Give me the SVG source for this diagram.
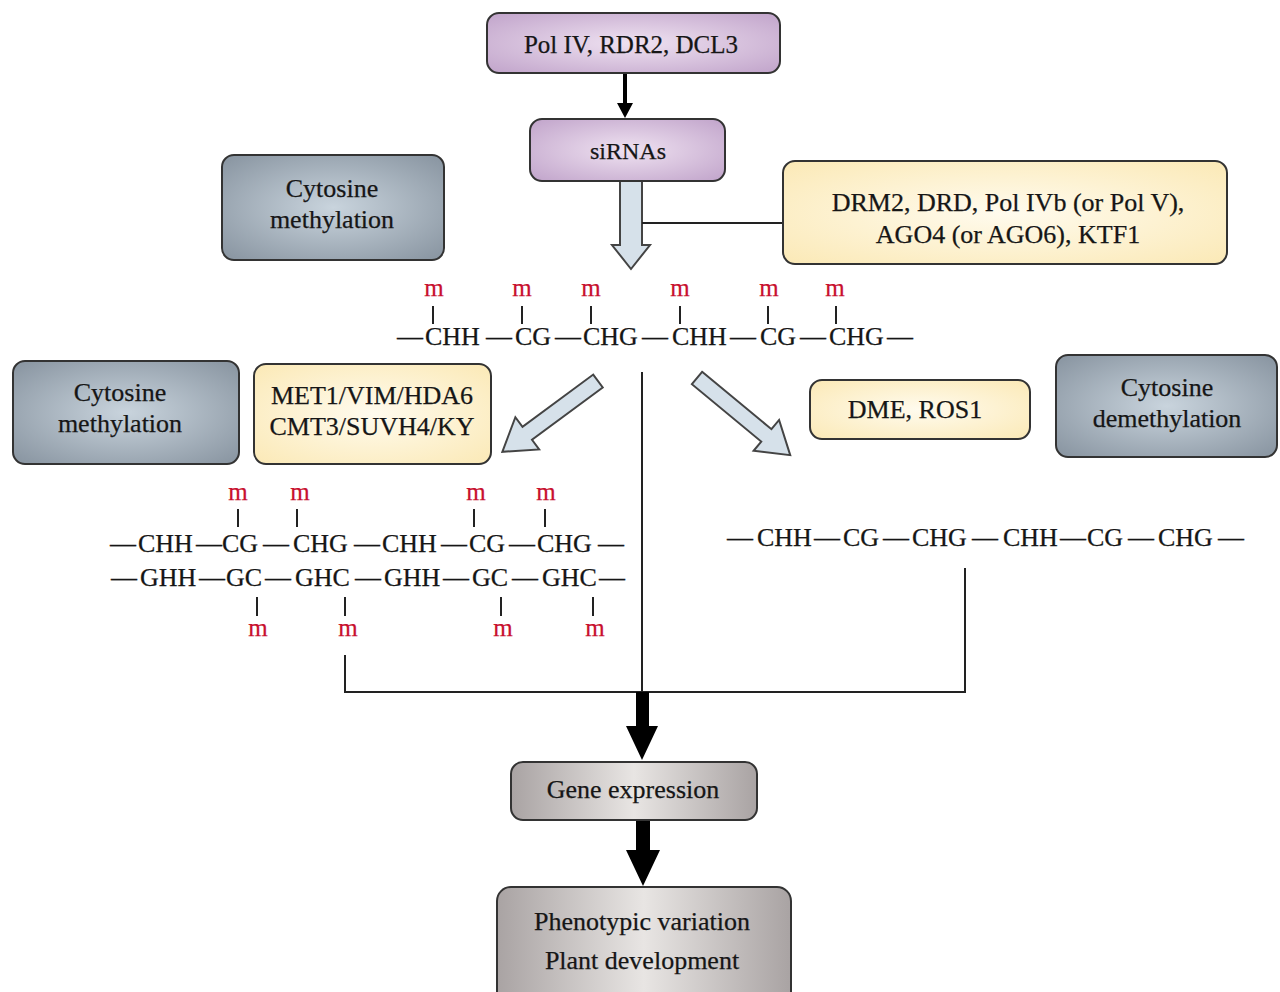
<svg xmlns="http://www.w3.org/2000/svg" width="1280" height="992" viewBox="0 0 1280 992">
<defs>
<radialGradient id="gPurple" cx="50%" cy="50%" r="65%">
<stop offset="0" stop-color="#efe2f1"/><stop offset="1" stop-color="#c4a8cd"/>
</radialGradient>
<radialGradient id="gBlue" cx="50%" cy="50%" r="65%">
<stop offset="0" stop-color="#c9d4dd"/><stop offset="1" stop-color="#8c98a4"/>
</radialGradient>
<radialGradient id="gYellow" cx="50%" cy="50%" r="70%">
<stop offset="0" stop-color="#fffbee"/><stop offset="1" stop-color="#fbe9b6"/>
</radialGradient>
<linearGradient id="gGrey" x1="0" y1="0" x2="1" y2="0">
<stop offset="0" stop-color="#a9a3a3"/><stop offset="0.5" stop-color="#e8e5e3"/><stop offset="1" stop-color="#a9a3a3"/>
</linearGradient>
</defs>
<style>
text{font-family:"Liberation Serif","Times New Roman",serif;fill:#161616;font-size:26px;stroke:#161616;stroke-width:0.25}
.c{text-anchor:middle}
.m{fill:#c8102e;stroke:#c8102e;text-anchor:middle;font-size:25px}
.box{stroke:#333;stroke-width:2}
.ln{stroke:#222;stroke-width:2;fill:none}
.tk{stroke:#222;stroke-width:2}
.hol{fill:#d6e1ea;stroke:#444;stroke-width:2;stroke-linejoin:miter}
.blk{fill:#000}
</style>
<rect width="1280" height="992" fill="#fff"/>

<g id="connectors">
<line x1="625" y1="73" x2="625" y2="104" stroke="#000" stroke-width="4"/>
<polygon class="blk" points="617,103 633,103 625,118"/>
<polygon class="hol" points="620,181 642,181 642,245 650,245 631,269 612,245 620,245"/>
<line class="ln" x1="642" y1="223" x2="783" y2="223"/>
<polygon class="hol" transform="translate(598,381) rotate(143.5)" points="0,-8 88,-8 88,-20 119,0 88,20 88,8 0,8"/>
<polygon class="hol" transform="translate(697,378) rotate(39.6)" points="0,-8 90,-8 90,-20 121,0 90,20 90,8 0,8"/>
<line class="ln" x1="642" y1="372" x2="642" y2="692"/>
<line class="ln" x1="345" y1="655" x2="345" y2="693"/>
<line class="ln" x1="965" y1="568" x2="965" y2="693"/>
<line class="ln" x1="344" y1="692" x2="966" y2="692"/>
<polygon class="blk" points="636,692 649,692 649,726 658,726 642,760 626,726 636,726"/>
<polygon class="blk" points="636,820 650,820 650,850 660,850 643,886 626,850 636,850"/>
</g>

<g id="node-polIV">
<rect class="box" x="487" y="13" width="293" height="60" rx="12" fill="url(#gPurple)"/>
<text class="c" x="631" y="53" style="font-size:25px">Pol IV, RDR2, DCL3</text>
</g>
<g id="node-siRNAs">
<rect class="box" x="530" y="119" width="195" height="62" rx="12" fill="url(#gPurple)"/>
<text class="c" x="628" y="159" style="font-size:24px">siRNAs</text>
</g>
<g id="node-cyto-meth-top">
<rect class="box" x="222" y="155" width="222" height="105" rx="12" fill="url(#gBlue)"/>
<text class="c" x="332" y="197">Cytosine</text>
<text class="c" x="332" y="228">methylation</text>
</g>
<g id="node-drm2">
<rect class="box" x="783" y="161" width="444" height="103" rx="12" fill="url(#gYellow)"/>
<text class="c" x="1008" y="211">DRM2, DRD, Pol IVb (or Pol V),</text>
<text class="c" x="1008" y="243">AGO4 (or AGO6), KTF1</text>
</g>

<g id="strand-top">
<text class="m" x="434" y="296">m</text>
<text class="m" x="522" y="296">m</text>
<text class="m" x="591" y="296">m</text>
<text class="m" x="680" y="296">m</text>
<text class="m" x="769" y="296">m</text>
<text class="m" x="835" y="296">m</text>
<line class="tk" x1="433" y1="306" x2="433" y2="324"/>
<line class="tk" x1="522" y1="306" x2="522" y2="324"/>
<line class="tk" x1="591" y1="306" x2="591" y2="324"/>
<line class="tk" x1="680" y1="306" x2="680" y2="324"/>
<line class="tk" x1="768" y1="306" x2="768" y2="324"/>
<line class="tk" x1="836" y1="306" x2="836" y2="324"/>
<text class="c" x="410" y="345">—</text>
<text x="425" y="345">CHH</text>
<text class="c" x="499" y="345">—</text>
<text x="515" y="345">CG</text>
<text class="c" x="568" y="345">—</text>
<text x="583" y="345">CHG</text>
<text class="c" x="655" y="345">—</text>
<text x="672" y="345">CHH</text>
<text class="c" x="743" y="345">—</text>
<text x="760" y="345">CG</text>
<text class="c" x="813" y="345">—</text>
<text x="829" y="345">CHG</text>
<text class="c" x="900" y="345">—</text>
</g>

<g id="node-cyto-meth-left">
<rect class="box" x="13" y="361" width="226" height="103" rx="12" fill="url(#gBlue)"/>
<text class="c" x="120" y="401">Cytosine</text>
<text class="c" x="120" y="432">methylation</text>
</g>
<g id="node-met1">
<rect class="box" x="254" y="364" width="237" height="100" rx="12" fill="url(#gYellow)"/>
<text class="c" x="372" y="404">MET1/VIM/HDA6</text>
<text class="c" x="372" y="435">CMT3/SUVH4/KY</text>
</g>
<g id="node-dme">
<rect class="box" x="810" y="380" width="220" height="59" rx="12" fill="url(#gYellow)"/>
<text class="c" x="915" y="418">DME, ROS1</text>
</g>
<g id="node-cyto-demeth">
<rect class="box" x="1056" y="355" width="221" height="102" rx="12" fill="url(#gBlue)"/>
<text class="c" x="1167" y="396">Cytosine</text>
<text class="c" x="1167" y="427">demethylation</text>
</g>

<g id="strand-left">
<text class="m" x="238" y="500">m</text>
<text class="m" x="300" y="500">m</text>
<text class="m" x="476" y="500">m</text>
<text class="m" x="546" y="500">m</text>
<line class="tk" x1="238" y1="509" x2="238" y2="527"/>
<line class="tk" x1="297" y1="509" x2="297" y2="527"/>
<line class="tk" x1="474" y1="509" x2="474" y2="527"/>
<line class="tk" x1="545" y1="509" x2="545" y2="527"/>
<text class="c" x="123" y="552">—</text>
<text x="138" y="552">CHH</text>
<text class="c" x="209" y="552">—</text>
<text x="222" y="552">CG</text>
<text class="c" x="276" y="552">—</text>
<text x="293" y="552">CHG</text>
<text class="c" x="367" y="552">—</text>
<text x="382" y="552">CHH</text>
<text class="c" x="454" y="552">—</text>
<text x="469" y="552">CG</text>
<text class="c" x="522" y="552">—</text>
<text x="537" y="552">CHG</text>
<text class="c" x="611" y="552">—</text>
<text class="c" x="124" y="586">—</text>
<text x="140" y="586">GHH</text>
<text class="c" x="212" y="586">—</text>
<text x="226" y="586">GC</text>
<text class="c" x="278" y="586">—</text>
<text x="295" y="586">GHC</text>
<text class="c" x="368" y="586">—</text>
<text x="384" y="586">GHH</text>
<text class="c" x="456" y="586">—</text>
<text x="472" y="586">GC</text>
<text class="c" x="525" y="586">—</text>
<text x="542" y="586">GHC</text>
<text class="c" x="612" y="586">—</text>
<line class="tk" x1="257" y1="597" x2="257" y2="616"/>
<line class="tk" x1="345" y1="597" x2="345" y2="616"/>
<line class="tk" x1="501" y1="597" x2="501" y2="616"/>
<line class="tk" x1="593" y1="597" x2="593" y2="616"/>
<text class="m" x="258" y="636">m</text>
<text class="m" x="348" y="636">m</text>
<text class="m" x="503" y="636">m</text>
<text class="m" x="595" y="636">m</text>
</g>

<g id="strand-right">
<text class="c" x="740" y="546">—</text>
<text x="757" y="546">CHH</text>
<text class="c" x="827" y="546">—</text>
<text x="843" y="546">CG</text>
<text class="c" x="896" y="546">—</text>
<text x="912" y="546">CHG</text>
<text class="c" x="985" y="546">—</text>
<text x="1003" y="546">CHH</text>
<text class="c" x="1073" y="546">—</text>
<text x="1087" y="546">CG</text>
<text class="c" x="1141" y="546">—</text>
<text x="1158" y="546">CHG</text>
<text class="c" x="1231" y="546">—</text>
</g>

<g id="node-gene-expression">
<rect class="box" x="511" y="762" width="246" height="58" rx="12" fill="url(#gGrey)"/>
<text class="c" x="633" y="798">Gene expression</text>
</g>
<g id="node-phenotypic">
<rect class="box" x="497" y="887" width="294" height="120" rx="14" fill="url(#gGrey)"/>
<text class="c" x="642" y="930">Phenotypic variation</text>
<text class="c" x="642" y="969">Plant development</text>
</g>
</svg>
